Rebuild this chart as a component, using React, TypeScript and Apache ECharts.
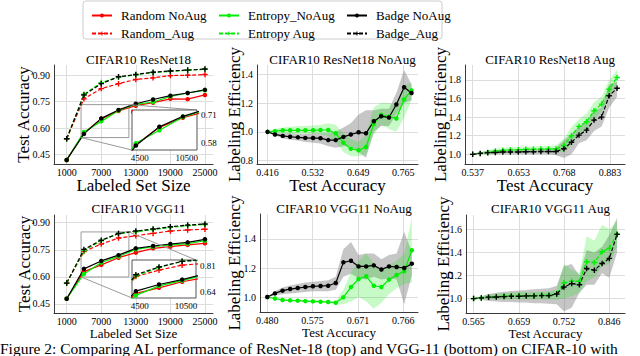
import React, { useEffect, useRef } from 'react';
import * as echarts from 'echarts';

// ---------------- data ----------------
const setSizes = [1000, 4000, 7000, 10000, 13000, 16000, 19000, 22000, 25000];

// CIFAR10 ResNet18 test accuracy
const rnRandomNoAug = [0.419, 0.572, 0.652, 0.697, 0.727, 0.744, 0.766, 0.764, 0.788];
const rnRandomAug = [0.539, 0.766, 0.824, 0.852, 0.876, 0.885, 0.898, 0.900, 0.904];
const rnEntropyNoAug = [0.419, 0.578, 0.638, 0.700, 0.735, 0.748, 0.779, 0.799, 0.815];
const rnEntropyAug = [0.539, 0.792, 0.858, 0.889, 0.903, 0.915, 0.922, 0.928, 0.933];
const rnBadgeNoAug = [0.419, 0.567, 0.655, 0.703, 0.738, 0.762, 0.784, 0.799, 0.817];
const rnBadgeAug = [0.539, 0.788, 0.852, 0.891, 0.904, 0.917, 0.924, 0.929, 0.935];

// CIFAR10 VGG11 test accuracy
const vgRandomNoAug = [0.478, 0.629, 0.666, 0.706, 0.734, 0.758, 0.767, 0.777, 0.786];
const vgRandomAug = [0.565, 0.740, 0.782, 0.815, 0.828, 0.841, 0.854, 0.860, 0.864];
const vgEntropyNoAug = [0.478, 0.616, 0.679, 0.713, 0.752, 0.767, 0.777, 0.784, 0.800];
const vgEntropyAug = [0.565, 0.745, 0.800, 0.840, 0.850, 0.862, 0.874, 0.884, 0.890];
const vgBadgeNoAug = [0.478, 0.644, 0.688, 0.720, 0.758, 0.771, 0.782, 0.791, 0.808];
const vgBadgeAug = [0.565, 0.752, 0.803, 0.840, 0.854, 0.865, 0.878, 0.887, 0.893];

// ResNet18 NoAug labeling efficiency
const rnNoAugAcc = [0.416, 0.435, 0.455, 0.474, 0.494, 0.513, 0.533, 0.552, 0.572, 0.591, 0.611, 0.630, 0.650, 0.669, 0.689, 0.708, 0.728, 0.747, 0.767, 0.786];
const rnNoAugBadge = [1.0, 0.982, 0.972, 0.966, 0.962, 0.958, 0.957, 0.956, 0.943, 0.943, 0.965, 0.982, 0.997, 0.99, 1.074, 1.108, 1.1, 1.19, 1.31, 1.27];
const rnNoAugBadgeLo = [1.0, 0.975, 0.955, 0.945, 0.94, 0.93, 0.925, 0.92, 0.9, 0.89, 0.9, 0.9, 0.86, 0.82, 1.0, 1.04, 1.04, 1.12, 1.2, 1.22];
const rnNoAugBadgeHi = [1.0, 0.99, 0.99, 0.99, 0.985, 0.985, 0.99, 0.99, 0.99, 1.0, 1.03, 1.06, 1.12, 1.15, 1.15, 1.16, 1.16, 1.27, 1.43, 1.33];
const rnNoAugEntropy = [1.0, 1.005, 1.011, 1.011, 1.011, 1.011, 1.011, 1.013, 1.013, 0.99, 0.925, 0.883, 0.872, 0.895, 1.055, 1.118, 1.106, 1.093, 1.225, 1.288];
const rnNoAugEntropyLo = [1.0, 0.99, 0.99, 0.985, 0.985, 0.985, 0.985, 0.985, 0.97, 0.93, 0.86, 0.83, 0.83, 0.84, 0.98, 1.05, 1.02, 1.0, 1.1, 1.22];
const rnNoAugEntropyHi = [1.0, 1.02, 1.03, 1.035, 1.04, 1.04, 1.045, 1.05, 1.06, 1.05, 0.99, 0.95, 0.93, 0.98, 1.17, 1.2, 1.2, 1.18, 1.32, 1.34];

// ResNet18 Aug labeling efficiency
const rnAugAcc = [0.537, 0.556, 0.575, 0.594, 0.613, 0.632, 0.652, 0.671, 0.690, 0.709, 0.728, 0.747, 0.767, 0.786, 0.805, 0.824, 0.843, 0.862, 0.881, 0.901];
const rnAugBadge = [1.0, 1.01, 1.018, 1.02, 1.025, 1.025, 1.025, 1.028, 1.028, 1.03, 1.03, 1.03, 1.06, 1.13, 1.207, 1.26, 1.368, 1.4, 1.63, 1.71];
const rnAugBadgeLo = [1.0, 1.0, 1.0, 1.0, 1.0, 1.0, 1.0, 1.0, 1.0, 1.0, 1.0, 0.99, 0.96, 1.0, 1.12, 1.15, 1.25, 1.3, 1.5, 1.62];
const rnAugBadgeHi = [1.0, 1.02, 1.04, 1.045, 1.05, 1.05, 1.05, 1.055, 1.055, 1.06, 1.06, 1.07, 1.15, 1.22, 1.3, 1.36, 1.47, 1.5, 1.75, 1.78];
const rnAugEntropy = [1.0, 1.01, 1.02, 1.035, 1.043, 1.046, 1.05, 1.054, 1.054, 1.057, 1.057, 1.057, 1.096, 1.2, 1.3, 1.35, 1.468, 1.54, 1.7, 1.825];
const rnAugEntropyLo = [1.0, 1.0, 1.005, 1.01, 1.015, 1.02, 1.02, 1.02, 1.02, 1.025, 1.025, 1.02, 1.02, 1.1, 1.22, 1.26, 1.38, 1.46, 1.6, 1.74];
const rnAugEntropyHi = [1.0, 1.02, 1.04, 1.06, 1.07, 1.075, 1.08, 1.085, 1.085, 1.09, 1.09, 1.095, 1.17, 1.29, 1.38, 1.44, 1.56, 1.62, 1.8, 1.91];

// VGG11 NoAug labeling efficiency
const vgNoAugAcc = [0.480, 0.496, 0.512, 0.528, 0.544, 0.560, 0.576, 0.592, 0.608, 0.624, 0.640, 0.656, 0.672, 0.688, 0.704, 0.720, 0.736, 0.752, 0.768, 0.784];
const vgNoAugBadge = [1.0, 1.025, 1.044, 1.055, 1.062, 1.069, 1.074, 1.076, 1.078, 1.097, 1.239, 1.25, 1.211, 1.211, 1.218, 1.19, 1.211, 1.207, 1.2, 1.23];
const vgNoAugBadgeLo = [1.0, 1.01, 1.02, 1.025, 1.03, 1.035, 1.04, 1.04, 1.04, 1.05, 1.14, 1.16, 1.13, 1.12, 1.14, 1.12, 1.13, 1.12, 0.95, 1.15];
const vgNoAugBadgeHi = [1.0, 1.04, 1.065, 1.08, 1.09, 1.1, 1.105, 1.11, 1.115, 1.14, 1.33, 1.38, 1.29, 1.3, 1.3, 1.26, 1.29, 1.3, 1.45, 1.31];
const vgNoAugEntropy = [1.0, 0.99, 0.98, 0.977, 0.975, 0.972, 0.97, 0.968, 0.966, 0.961, 0.998, 1.069, 1.124, 1.143, 1.078, 1.069, 1.12, 1.152, 1.177, 1.322];
const vgNoAugEntropyLo = [1.0, 0.985, 0.975, 0.97, 0.968, 0.965, 0.962, 0.96, 0.957, 0.95, 0.95, 0.97, 1.0, 0.97, 0.92, 0.96, 1.02, 1.06, 1.09, 1.1];
const vgNoAugEntropyHi = [1.0, 0.995, 0.985, 0.984, 0.982, 0.98, 0.978, 0.976, 0.975, 0.972, 1.05, 1.17, 1.25, 1.3, 1.23, 1.18, 1.22, 1.25, 1.3, 1.55];

// VGG11 Aug labeling efficiency
const vgAugAcc = [0.565, 0.581, 0.596, 0.612, 0.628, 0.643, 0.659, 0.674, 0.690, 0.706, 0.721, 0.737, 0.752, 0.768, 0.784, 0.799, 0.815, 0.831, 0.846, 0.862];
const vgAugBadge = [1.0, 1.006, 1.012, 1.014, 1.017, 1.02, 1.02, 1.023, 1.023, 1.026, 1.026, 1.04, 1.1, 1.13, 1.12, 1.26, 1.246, 1.304, 1.348, 1.556];
const vgAugBadgeLo = [1.0, 0.99, 0.98, 0.975, 0.97, 0.97, 0.965, 0.965, 0.96, 0.96, 0.955, 0.95, 0.89, 0.92, 1.05, 1.12, 1.12, 1.22, 1.18, 1.4];
const vgAugBadgeHi = [1.0, 1.02, 1.04, 1.05, 1.06, 1.065, 1.07, 1.075, 1.08, 1.085, 1.09, 1.11, 1.28, 1.3, 1.2, 1.42, 1.4, 1.45, 1.55, 1.7];
const vgAugEntropy = [1.0, 1.006, 1.012, 1.017, 1.02, 1.023, 1.026, 1.026, 1.026, 1.029, 1.029, 1.04, 1.136, 1.15, 1.15, 1.319, 1.313, 1.406, 1.435, 1.56];
const vgAugEntropyLo = [1.0, 0.995, 0.995, 0.995, 0.995, 0.995, 0.995, 0.995, 0.995, 0.995, 0.995, 0.99, 1.0, 1.02, 1.05, 1.15, 1.18, 1.28, 1.3, 1.45];
const vgAugEntropyHi = [1.0, 1.02, 1.03, 1.04, 1.045, 1.05, 1.055, 1.055, 1.055, 1.06, 1.06, 1.08, 1.3, 1.25, 1.22, 1.54, 1.5, 1.64, 1.6, 1.67];

// tick labels
const sizeTicks = [1000, 7000, 13000, 19000, 25000];
const accTicks = [0.45, 0.6, 0.75, 0.9];
const insetSizeTicks = [4500, 10500];
const rnInsetAccTicks = [0.58, 0.71];
const vgInsetAccTicks = [0.64, 0.81];
const rnNoAugAccTicks = [0.416, 0.532, 0.649, 0.765];
const rnNoAugEffTicks = [0.8, 1.0, 1.2, 1.4];
const rnAugAccTicks = [0.537, 0.653, 0.768, 0.883];
const rnAugEffTicks = [1.0, 1.2, 1.4, 1.6, 1.8];
const vgNoAugAccTicks = [0.48, 0.575, 0.671, 0.766];
const vgNoAugEffTicks = [1.0, 1.2, 1.4];
const vgAugAccTicks = [0.565, 0.659, 0.752, 0.846];
const vgAugEffTicks = [1.0, 1.2, 1.4, 1.6];

const legendRows = [
  ['Random NoAug', 'Random_Aug'],
  ['Entropy_NoAug', 'Entropy Aug'],
  ['Badge NoAug', 'Badge_Aug'],
];
const caption = 'Figure 2: Comparing AL performance of ResNet-18 (top) and VGG-11 (bottom) on CIFAR-10 with';

// ---------------- styling / layout ----------------
const SERIF = "'Liberation Serif', 'DejaVu Serif', serif";
const RED = '#ff0000';
const GREEN = '#00ee00';
const BLACK = '#000000';
const PLUS = 'path://M3,0H5V3H8V5H5V8H3V5H0V3H3Z';
const GRIDLINE = '#dddddd';
const SPINE = '#3a3a3a';

const grids = [
  { left: 54, top: 65, width: 159, height: 99 },   // 0 TL
  { left: 257, top: 65, width: 161, height: 99 },  // 1 TM
  { left: 465, top: 65, width: 160, height: 99 },  // 2 TR
  { left: 54, top: 215, width: 159, height: 98 },  // 3 BL
  { left: 260, top: 214, width: 158, height: 98 }, // 4 BM
  { left: 466, top: 215, width: 159, height: 98 }, // 5 BR
  { left: 132, top: 110, width: 65, height: 40 },  // 6 TL inset
  { left: 132, top: 260, width: 64, height: 38 },  // 7 BL inset
];
const insetXRange = [3500, 11800];
const rnInsetYRange = [0.546, 0.733];
const vgInsetYRange = [0.599, 0.849];

const pairs = (xs: number[], ys: number[]) => xs.map((x, i) => [x, ys[i]]);

function curve(name: string, xs: number[], ys: number[], color: string, aug: boolean, g: number, z = 3): any {
  return {
    type: 'line',
    name,
    xAxisIndex: g,
    yAxisIndex: g,
    data: pairs(xs, ys),
    symbol: aug ? PLUS : 'circle',
    symbolSize: aug ? 5.5 : 4.5,
    showSymbol: true,
    lineStyle: { color, width: 1.2, type: aug ? [4, 2] : 'solid' },
    itemStyle: { color },
    clip: true,
    z,
    silent: true,
  };
}

function band(xs: number[], lo: number[], hi: number[], color: string, g: number): any {
  return {
    type: 'custom',
    xAxisIndex: g,
    yAxisIndex: g,
    silent: true,
    z: 1,
    data: [[xs[0], lo[0]]],
    encode: { x: 0, y: 1 },
    renderItem: (_params: any, api: any) => {
      const pts: number[][] = [];
      xs.forEach((x, i) => pts.push(api.coord([x, hi[i]])));
      for (let i = xs.length - 1; i >= 0; i--) pts.push(api.coord([xs[i], lo[i]]));
      return { type: 'polygon', shape: { points: pts }, style: { fill: color, stroke: 'none' } };
    },
  };
}

function valueAxis(g: number, min: number, max: number, ticks: number[], fmt: (v: number) => string, extra: any = {}, nameSize = 17, margin = 4): any {
  return {
    type: 'value',
    gridIndex: g,
    min,
    max,
    axisLine: { show: true, onZero: false, lineStyle: { color: SPINE, width: 1 } },
    axisTick: { show: false, customValues: ticks },
    axisLabel: { customValues: ticks, formatter: fmt, fontFamily: SERIF, fontSize: 10, color: '#000', margin },
    splitLine: { show: true, lineStyle: { color: GRIDLINE, width: 1 } },
    nameLocation: 'middle',
    nameMoveOverlap: false,
    nameTextStyle: { fontFamily: SERIF, fontSize: nameSize, color: '#000' },
    ...extra,
  };
}

function insetAxes(g: number, yRange: number[], yTicks: number[]) {
  const x = {
    type: 'value', gridIndex: g, min: insetXRange[0], max: insetXRange[1],
    axisLine: { show: false }, splitLine: { show: false },
    axisTick: { show: false, customValues: insetSizeTicks },
    axisLabel: { customValues: insetSizeTicks, formatter: (v: number) => String(v), fontFamily: SERIF, fontSize: 9, color: '#000', margin: 3 },
    z: 6,
  };
  const y = {
    type: 'value', gridIndex: g, min: yRange[0], max: yRange[1], position: 'right',
    axisLine: { show: false }, splitLine: { show: false },
    axisTick: { show: false, customValues: yTicks },
    axisLabel: { customValues: yTicks, formatter: (v: number) => v.toFixed(2), fontFamily: SERIF, fontSize: 9, color: '#000', margin: 4 },
    z: 6,
  };
  return [x, y];
}

const f2 = (v: number) => v.toFixed(2);
const f1 = (v: number) => v.toFixed(1);
const f3 = (v: number) => v.toFixed(3);
const fi = (v: number) => String(Math.round(v));

function leftSeries(g: number, gi: number, d: number[][], yRange: number[]): any[] {
  const [rN, rA, eN, eA, bN, bA] = d;
  const out: any[] = [];
  [g, gi].forEach((grid, k) => {
    const z = k === 0 ? 3 : 8;
    const s = [
      curve('Random NoAug', setSizes, rN, RED, false, grid, z),
      curve('Random_Aug', setSizes, rA, RED, true, grid, z),
      curve('Entropy_NoAug', setSizes, eN, GREEN, false, grid, z),
      curve('Entropy Aug', setSizes, eA, GREEN, true, grid, z),
      curve('Badge NoAug', setSizes, bN, BLACK, false, grid, z),
      curve('Badge_Aug', setSizes, bA, BLACK, true, grid, z),
    ];
    if (k === 0) {
      s[0].markArea = {
        silent: true,
        itemStyle: { color: 'rgba(0,0,0,0)', borderColor: '#9a9a9a', borderWidth: 1 },
        data: [[{ xAxis: insetXRange[0], yAxis: yRange[0] }, { xAxis: insetXRange[1], yAxis: yRange[1] }]],
      };
    }
    out.push(...s);
  });
  return out;
}

function effSeries(g: number, xs: number[], e: number[], eLo: number[], eHi: number[], b: number[], bLo: number[], bHi: number[], aug: boolean): any[] {
  return [
    band(xs, bLo, bHi, 'rgba(120,120,120,0.42)', g),
    band(xs, eLo, eHi, 'rgba(0,230,0,0.22)', g),
    curve(aug ? 'Entropy Aug' : 'Entropy_NoAug', xs, e, GREEN, aug, g),
    curve(aug ? 'Badge_Aug' : 'Badge NoAug', xs, b, BLACK, aug, g),
  ];
}

function buildOption(): any {
  const titleDefs = [
    ['CIFAR10 ResNet18', 0, 48], ['CIFAR10 ResNet18 NoAug', 1, 48], ['CIFAR10 ResNet18 Aug', 2, 48],
    ['CIFAR10 VGG11', 3, 197], ['CIFAR10 VGG11 NoAug', 4, 197], ['CIFAR10 VGG11 Aug', 5, 197],
  ] as [string, number, number][];
  const title = titleDefs.map(([text, g, top]) => ({
    text,
    left: grids[g].left + grids[g].width / 2,
    top,
    textAlign: 'center',
    textStyle: { fontFamily: SERIF, fontSize: 13, fontWeight: 'normal', color: '#000' },
  }));

  const topName = (n: string) => ({ name: n, nameGap: 13 });
  const botName = (n: string) => ({ name: n, nameGap: 14 });
  const xAxis = [
    valueAxis(0, -1200, 26400, sizeTicks, fi, topName('Labeled Set Size'), 17, 3),
    valueAxis(1, 0.3888, 0.8027, rnNoAugAccTicks, f3, topName('Test Accuracy'), 17, 3),
    valueAxis(2, 0.5176, 0.921, rnAugAccTicks, f3, topName('Test Accuracy'), 17, 3),
    valueAxis(3, -1200, 26400, sizeTicks, fi, botName('Labeled Set Size'), 13, 3),
    valueAxis(4, 0.4646, 0.797, vgNoAugAccTicks, f3, botName('Test Accuracy'), 13, 3),
    valueAxis(5, 0.5493, 0.8784, vgAugAccTicks, f3, botName('Test Accuracy'), 13, 3),
  ];
  const yAxis = [
    valueAxis(0, 0.396, 0.958, accTicks, f2, { name: 'Test Accuracy', nameGap: 22 }),
    valueAxis(1, 0.777, 1.464, rnNoAugEffTicks, f1, { name: 'Labeling Efficiency', nameGap: 14.5 }),
    valueAxis(2, 0.896, 1.96, rnAugEffTicks, f1, { name: 'Labeling Efficiency', nameGap: 16.5 }),
    valueAxis(3, 0.399, 0.943, accTicks, f2, { name: 'Test Accuracy', nameGap: 21 }),
    valueAxis(4, 0.897, 1.572, vgNoAugEffTicks, f1, { name: 'Labeling Efficiency', nameGap: 17.5 }),
    valueAxis(5, 0.875, 1.724, vgAugEffTicks, f1, { name: 'Labeling Efficiency', nameGap: 14 }),
  ];
  const [ix0, iy0] = insetAxes(6, rnInsetYRange, rnInsetAccTicks);
  const [ix1, iy1] = insetAxes(7, vgInsetYRange, vgInsetAccTicks);
  xAxis.push(ix0, ix1);
  yAxis.push(iy0, iy1);

  const series = [
    ...leftSeries(0, 6, [rnRandomNoAug, rnRandomAug, rnEntropyNoAug, rnEntropyAug, rnBadgeNoAug, rnBadgeAug], rnInsetYRange),
    ...leftSeries(3, 7, [vgRandomNoAug, vgRandomAug, vgEntropyNoAug, vgEntropyAug, vgBadgeNoAug, vgBadgeAug], vgInsetYRange),
    ...effSeries(1, rnNoAugAcc, rnNoAugEntropy, rnNoAugEntropyLo, rnNoAugEntropyHi, rnNoAugBadge, rnNoAugBadgeLo, rnNoAugBadgeHi, false),
    ...effSeries(2, rnAugAcc, rnAugEntropy, rnAugEntropyLo, rnAugEntropyHi, rnAugBadge, rnAugBadgeLo, rnAugBadgeHi, true),
    ...effSeries(4, vgNoAugAcc, vgNoAugEntropy, vgNoAugEntropyLo, vgNoAugEntropyHi, vgNoAugBadge, vgNoAugBadgeLo, vgNoAugBadgeHi, false),
    ...effSeries(5, vgAugAcc, vgAugEntropy, vgAugEntropyLo, vgAugEntropyHi, vgAugBadge, vgAugBadgeLo, vgAugBadgeHi, true),
  ];

  const legendLefts = [86, 213, 341];
  const legend = legendRows.map((names, i) => ({
    orient: 'vertical',
    left: legendLefts[i],
    top: 4,
    itemWidth: 20,
    itemHeight: 5,
    itemGap: 5,
    selectedMode: false,
    data: names,
    textStyle: { fontFamily: SERIF, fontSize: 13, color: '#000', padding: [0, 0, 0, 4] },
  }));

  return {
    animation: false,
    backgroundColor: '#ffffff',
    title,
    legend,
    grid: grids.map((g, i) => ({
      ...g,
      containLabel: false,
      show: i >= 6,
      backgroundColor: '#ffffff',
      borderColor: '#555555',
      borderWidth: 1,
      z: i >= 6 ? 5 : 0,
    })),
    xAxis,
    yAxis,
    series,
  };
}

export default function App() {
  const ref = useRef<HTMLDivElement>(null);
  useEffect(() => {
    if (!ref.current) return;
    const chart = echarts.init(ref.current, undefined, { renderer: 'svg' });
    chart.setOption(buildOption());
    const conn = (main: number, inset: number, yRange: number[]) => {
      const a1 = chart.convertToPixel({ gridIndex: main } as any, [insetXRange[1], yRange[1]]) as number[];
      const b1 = chart.convertToPixel({ gridIndex: inset } as any, [insetXRange[1], yRange[1]]) as number[];
      const a2 = chart.convertToPixel({ gridIndex: main } as any, [insetXRange[0], yRange[0]]) as number[];
      const b2 = chart.convertToPixel({ gridIndex: inset } as any, [insetXRange[0], yRange[0]]) as number[];
      const st = { stroke: '#9a9a9a', lineWidth: 1 };
      return [
        { type: 'line', z: 4, shape: { x1: a1[0], y1: a1[1], x2: b1[0], y2: b1[1] }, style: st, silent: true },
        { type: 'line', z: 4, shape: { x1: a2[0], y1: a2[1], x2: b2[0], y2: b2[1] }, style: st, silent: true },
      ];
    };
    chart.setOption({
      graphic: [
        { type: 'rect', shape: { x: 83, y: 1, width: 359, height: 38, r: 3 }, style: { fill: 'none', stroke: '#cccccc', lineWidth: 1 }, silent: true },
        { type: 'text', x: 0, y: 348.3, style: { text: caption, fontFamily: SERIF, fontSize: 15.5, fill: '#000', verticalAlign: 'middle', align: 'left' }, silent: true },
        ...conn(0, 6, rnInsetYRange),
        ...conn(3, 7, vgInsetYRange),
      ],
    });
    return () => chart.dispose();
  }, []);
  return <div ref={ref} style={{ position: 'absolute', left: 0, top: 0, width: 640, height: 356 }} />;
}
